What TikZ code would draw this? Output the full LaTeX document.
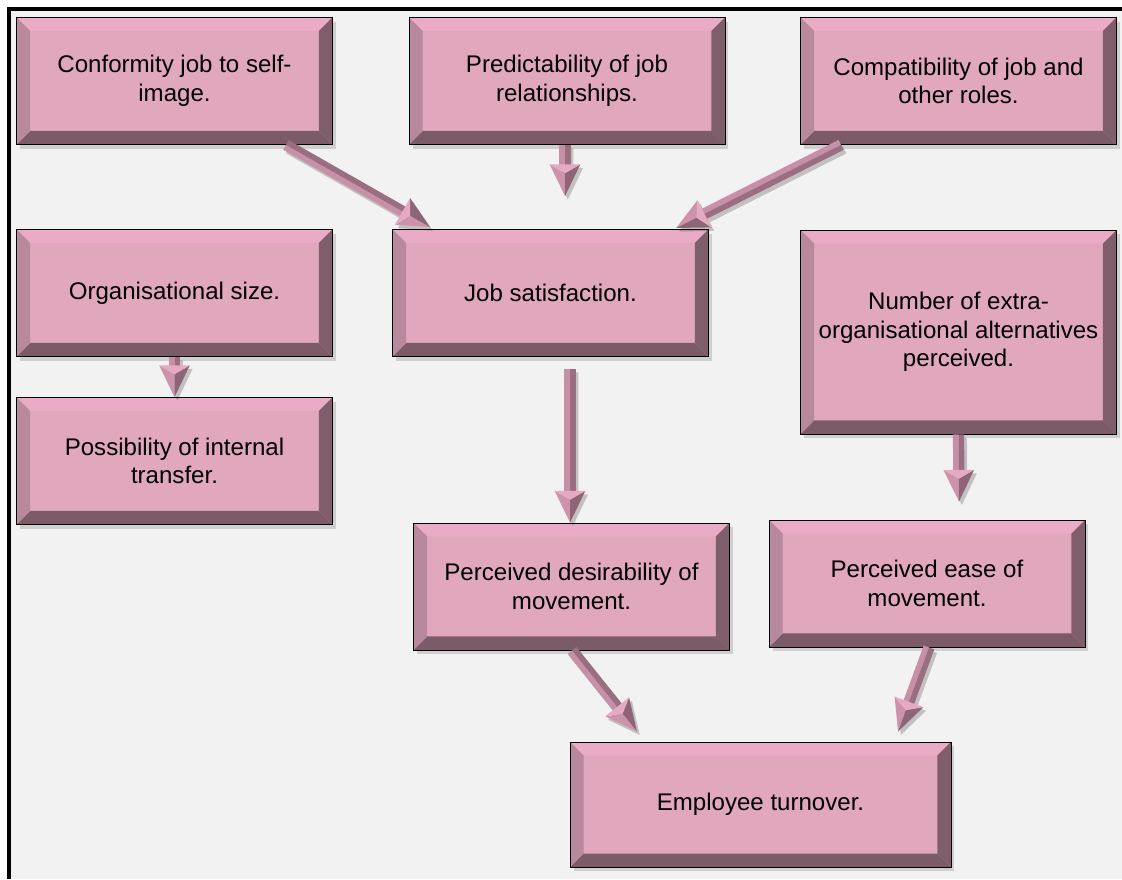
\documentclass[tikz,border=0pt]{standalone}
\usepackage{fontspec}
\setmainfont{Liberation Sans}
\usepackage{xcolor}
\usepackage{tikz}
\usetikzlibrary{calc}
\usetikzlibrary{shadows}

\definecolor{pagegray}{HTML}{F2F2F2}
\definecolor{boxface}{HTML}{E0A7BD}
\definecolor{bevtop}{HTML}{E9ABC5}
\definecolor{bevleft}{HTML}{B8899C}
\definecolor{bevbottom}{HTML}{7B5B68}
\definecolor{bevright}{HTML}{7E5E6B}
\definecolor{arrlight}{HTML}{C890A7}
\definecolor{arrdark}{HTML}{9A6E80}
\definecolor{headlight}{HTML}{CC93AB}
\definecolor{headdark}{HTML}{8E6577}
\definecolor{headbase}{HTML}{E6A9C2}

\newcommand\bevw{0.27cm}
\tikzset{
	bevelbox/.style={
		draw=black, line width=0.5pt, fill=boxface,
		minimum width=6.32cm, minimum height=2.54cm, inner sep=0pt,
		align=center, font=\fontsize{13.7}{16.3}\selectfont,
		drop shadow={shadow xshift=2pt, shadow yshift=-2.5pt, opacity=0.3},
		path picture={
			\fill[bevtop] (path picture bounding box.north west) -- (path picture bounding box.north east) -- ([shift={(-\bevw,-\bevw)}]path picture bounding box.north east) -- ([shift={(\bevw,-\bevw)}]path picture bounding box.north west) -- cycle;
			\fill[bevbottom] (path picture bounding box.south west) -- (path picture bounding box.south east) -- ([shift={(-\bevw,\bevw)}]path picture bounding box.south east) -- ([shift={(\bevw,\bevw)}]path picture bounding box.south west) -- cycle;
			\fill[bevleft] (path picture bounding box.north west) -- (path picture bounding box.south west) -- ([shift={(\bevw,\bevw)}]path picture bounding box.south west) -- ([shift={(\bevw,-\bevw)}]path picture bounding box.north west) -- cycle;
			\fill[bevright] (path picture bounding box.north east) -- (path picture bounding box.south east) -- ([shift={(-\bevw,\bevw)}]path picture bounding box.south east) -- ([shift={(-\bevw,-\bevw)}]path picture bounding box.north east) -- cycle;
		},
	},
	arrshadow/.style={black, opacity=0.2},
}

% thick bevelled arrow from #1 to #2
\newcommand\fatarrow[2]{%
	\path let \p1=#1, \p2=#2 in \pgfextra{%
		\pgfmathsetmacro\arrang{atan2(\y2-\y1,\x2-\x1)}\global\let\arrang\arrang
		\pgfmathsetmacro\arrlen{veclen(\x2-\x1,\y2-\y1)}\global\let\arrlen\arrlen};
	\begin{scope}[shift={#1}, x=1pt, y=1pt]
		\begin{scope}[shift={(1.6,-2)}, rotate=\arrang]
			\fill[arrshadow] (0,-3.2) -- (\arrlen-18,-3.2) -- (\arrlen-18,-8.7) -- (\arrlen,0) -- (\arrlen-18,8.7) -- (\arrlen-18,3.2) -- (0,3.2) -- cycle;
		\end{scope}
		\begin{scope}[rotate=\arrang]
			\fill[arrlight] (0,-3.2) rectangle (\arrlen-17,0);
			\fill[arrdark] (0,0) rectangle (\arrlen-17,3.2);
			\fill[headlight] (\arrlen-18,-8.7) -- (\arrlen,0) -- (\arrlen-13,0) -- cycle;
			\fill[headdark] (\arrlen-18,8.7) -- (\arrlen,0) -- (\arrlen-13,0) -- cycle;
			\fill[headbase] (\arrlen-18,-8.7) -- (\arrlen-13,0) -- (\arrlen-18,8.7) -- cycle;
		\end{scope}
	\end{scope}
}

\begin{document}
\begin{tikzpicture}[x=0.02cm, y=-0.02cm]
	\useasboundingbox (0,0) rectangle (1122,879);
	\fill[white] (0,0) rectangle (1122,879);
	\fill[pagegray] (9,9) rectangle (1122,879);
	\draw[line width=2pt] (9,879) -- (9,9) -- (1122,9);

	% boxes
	\node[bevelbox] (conf) at (174.5,81) {Conformity job to self-\\image.};
	\node[bevelbox] (pred) at (567,81) {Predictability of job\\relationships.};
	\node[bevelbox] (comp) at (958.5,81) {Compatibility of job and\\other roles.};
	\node[bevelbox] (org) at (174.5,293) {Organisational size.};
	\node[bevelbox] (job) at (550.5,293) {Job satisfaction.};
	\node[bevelbox, minimum height=4.08cm] (num) at (958.5,332) {Number of extra-\\organisational alternatives\\perceived.};
	\node[bevelbox] (poss) at (174.5,461) {Possibility of internal\\transfer.};
	\node[bevelbox] (des) at (571.5,586.5) {Perceived desirability of\\movement.};
	\node[bevelbox] (ease) at (927,583.5) {Perceived ease of\\movement.};
	\node[bevelbox, minimum width=7.62cm, minimum height=2.5cm] (emp) at (760.5,804.5) {Employee turnover.};

	% arrows
	\fatarrow{($(conf.south)+(111.5,0)$)}{($(job.north)+(-120.5,-2)$)}
	\fatarrow{($(pred.south)+(-2,0)$)}{($(job.north)+(14.5,-33)$)}
	\fatarrow{($(comp.south)+(-117.5,0)$)}{($(job.north)+(125.5,-1)$)}
	\fatarrow{(org.south)}{(poss.north)}
	\fatarrow{($(job.south)+(19.5,12)$)}{($(des.north)+(-1.5,0)$)}
	\fatarrow{(num.south)}{($(ease.north)+(32,-18)$)}
	\fatarrow{($(des.south)+(0.5,0)$)}{($(emp.north)+(-123.5,-10)$)}
	\fatarrow{($(ease.south)+(2,0)$)}{($(emp.north)+(137.5,-10)$)}
\end{tikzpicture}
\end{document}
